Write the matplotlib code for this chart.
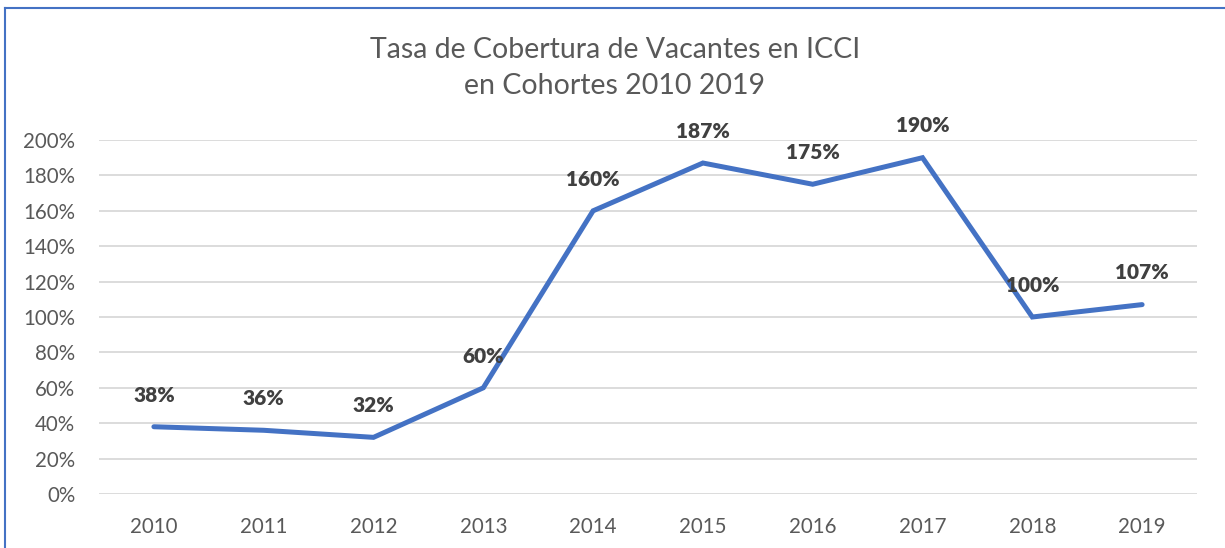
import matplotlib as mpl
import matplotlib.pyplot as plt
from matplotlib.lines import Line2D
from matplotlib.ticker import FuncFormatter

# Data
YEARS = ["2010", "2011", "2012", "2013", "2014", "2015", "2016", "2017", "2018", "2019"]
COVERAGE = [38, 36, 32, 60, 160, 187, 175, 190, 100, 107]   # percent
Y_TICKS = [0, 20, 40, 60, 80, 100, 120, 140, 160, 180, 200]

TITLE = "Tasa de Cobertura de Vacantes en ICCI\nen Cohortes 2010 2019"

BLUE = "#4472C4"
TEXT = "#595959"
LABEL = "#404040"
GRID = "#D9D9D9"

mpl.rcParams["font.family"] = ["Lato", "DejaVu Sans"]

W, H = 1225, 548
fig = plt.figure(figsize=(W / 100, H / 100), dpi=100)

# plot area in pixel terms -> figure fractions
left, right, top, bottom = 99, 1197, 140, 494
ax = fig.add_axes([left / W, 1 - bottom / H, (right - left) / W, (bottom - top) / H])

x = list(range(len(YEARS)))
ax.plot(x, COVERAGE, color=BLUE, linewidth=3.6, solid_capstyle="round",
        solid_joinstyle="miter", zorder=3)

for xi, v in zip(x, COVERAGE):
    ax.annotate(f"{v}%", (xi, v), xytext=(0, 16), textcoords="offset points",
                ha="center", va="bottom", fontsize=15, fontweight="heavy",
                color=LABEL, zorder=4)

ax.set_xlim(-0.5, len(YEARS) - 0.5)
ax.set_ylim(0, 200)
ax.set_yticks(Y_TICKS)
ax.yaxis.set_major_formatter(FuncFormatter(lambda v, _: f"{v:.0f}%"))
ax.set_xticks(x)
ax.set_xticklabels(YEARS)
ax.tick_params(axis="both", length=0, labelsize=14.8, colors=TEXT)
ax.tick_params(axis="x", pad=16.5)
ax.tick_params(axis="y", pad=17)

ax.grid(axis="y", color=GRID, linewidth=1.3)
ax.set_axisbelow(True)
for s in ax.spines.values():
    s.set_visible(False)

fig.text(0.502, 1 - 68 / H, TITLE, ha="center", va="center", fontsize=20.5,
         color=TEXT, linespacing=1.45)

# chart frame (top and left edges visible in the crop)
fig.add_artist(Line2D([5 / W, 1], [1 - 8 / H, 1 - 8 / H], color=BLUE,
                      linewidth=1.5, transform=fig.transFigure))
fig.add_artist(Line2D([5 / W, 5 / W], [0, 1 - 8 / H], color=BLUE,
                      linewidth=1.5, transform=fig.transFigure))

fig.savefig("out.png", dpi=100)
